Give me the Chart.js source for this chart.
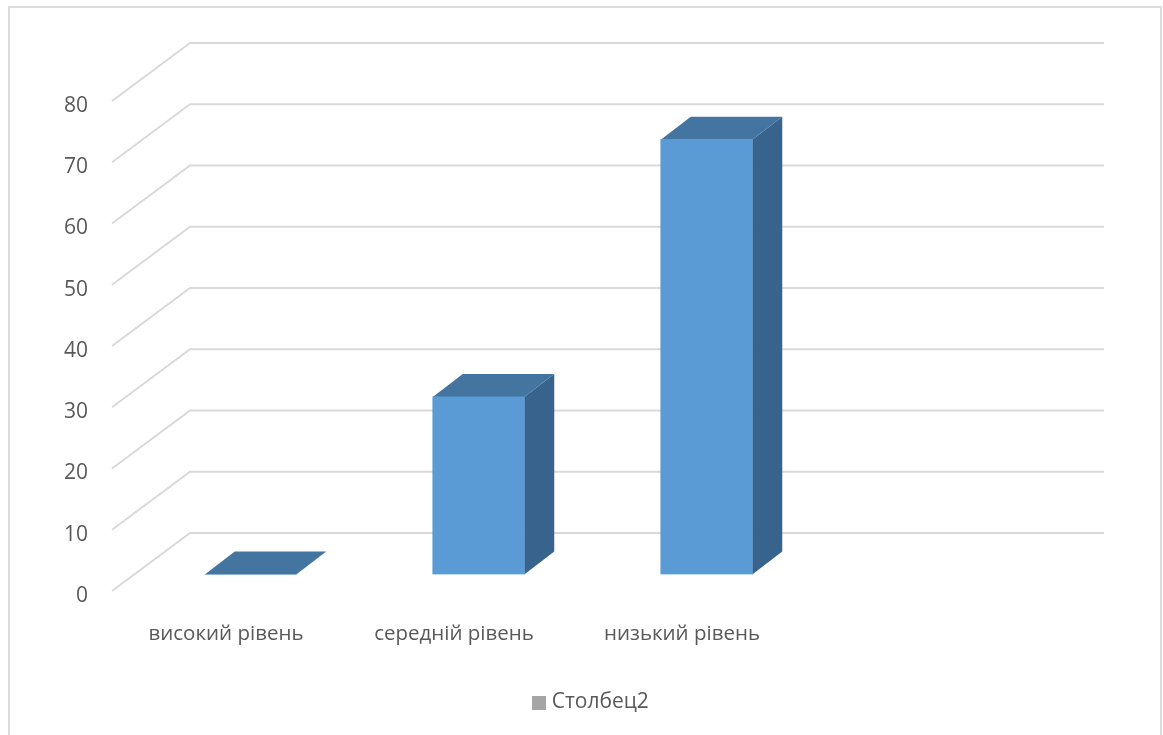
<!DOCTYPE html>
<html>
<head>
<meta charset="utf-8">
<title>Столбец2</title>
<script src="https://cdn.jsdelivr.net/npm/chart.js@4"></script>
<style>
    html, body { margin: 0; padding: 0; background: #ffffff; }
    canvas { display: block; }
</style>
</head>
<body>
<canvas id="chart" width="1163" height="735"></canvas>
<script>
const categories = ["високий рівень", "середній рівень", "низький рівень", ""];
const values = [0, 29, 71, null];
const seriesName = "Столбец2";
const tickStep = 10;
const axisMax = 80;

// colours
const textColor = "#595959";
const gridColor = "#d9d9d9";
const frontColor = "#5b9bd5";
const topColor = "#4475a1";
const sideColor = "#38638c";
const legendColor = "#a5a5a5";

// how the 3d look is laid out, in pixels
const lineLift = -5;
const wallShift = { x: 78, y: -58 };
const wallEnd = 80;
const barShift = { x: 24.5, y: -21.5 };
const barDepth = { x: 30, y: -23 };

function polygon(ctx, points, color) {
    ctx.fillStyle = color;
    ctx.beginPath();
    points.forEach((p, i) => (i ? ctx.lineTo(p[0], p[1]) : ctx.moveTo(p[0], p[1])));
    ctx.closePath();
    ctx.fill();
}

// legend square, drawn off centre so the text sits close to it like in the original
function legendSquare() {
    const c = document.createElement("canvas");
    c.width = 14;
    c.height = 14;
    const g = c.getContext("2d");
    g.fillStyle = legendColor;
    g.fillRect(0, 0, 14, 14);
    return c;
}

const frame3d = {
    id: "frame3d",
    beforeDatasetsDraw(chart) {
        const { ctx, chartArea, scales } = chart;
        ctx.save();

        // outer border, open at the bottom
        ctx.strokeStyle = "#dcdcdc";
        ctx.lineWidth = 2;
        ctx.beginPath();
        ctx.moveTo(9, 735);
        ctx.lineTo(9, 7);
        ctx.lineTo(1161, 7);
        ctx.lineTo(1161, 735);
        ctx.stroke();

        // floor/side lines plus back wall gridlines
        ctx.strokeStyle = gridColor;
        scales.y.ticks.forEach((tick) => {
            const y = scales.y.getPixelForValue(tick.value) + lineLift;
            ctx.beginPath();
            ctx.moveTo(chartArea.left, y);
            ctx.lineTo(chartArea.left + wallShift.x, y + wallShift.y);
            ctx.lineTo(chartArea.right + wallEnd, y + wallShift.y);
            ctx.stroke();
        });
        ctx.restore();

        // top and side faces of the bars, from the library's own bar elements
        ctx.save();
        ctx.translate(barShift.x, barShift.y);
        chart.getDatasetMeta(0).data.forEach((bar, i) => {
            if (values[i] === null) return;
            const left = bar.x - bar.width / 2;
            const right = bar.x + bar.width / 2;
            polygon(ctx, [
                [right, bar.y],
                [right + barDepth.x, bar.y + barDepth.y],
                [right + barDepth.x, bar.base + barDepth.y],
                [right, bar.base]
            ], sideColor);
            polygon(ctx, [
                [left, bar.y],
                [right, bar.y],
                [right + barDepth.x, bar.y + barDepth.y],
                [left + barDepth.x, bar.y + barDepth.y]
            ], topColor);
        });
        // left translated for the front faces, undone in afterDatasetsDraw
    },
    afterDatasetsDraw(chart) {
        chart.ctx.restore();
    }
};

new Chart(document.getElementById("chart"), {
    type: "bar",
    data: {
        labels: categories,
        datasets: [{
            label: seriesName,
            data: values,
            backgroundColor: frontColor,
            barThickness: 91.5
        }]
    },
    options: {
        responsive: false,
        animation: false,
        layout: { padding: { left: 23, top: 106, right: 0, bottom: 12 } },
        scales: {
            x: {
                grid: { display: false },
                border: { display: false },
                afterFit: (scale) => { scale.height = 86; },
                ticks: {
                    color: textColor,
                    font: { family: "'Open Sans'", size: 20.5 },
                    padding: 18,
                    maxRotation: 0
                }
            },
            y: {
                min: 0,
                max: axisMax,
                grid: { display: false },
                border: { display: false },
                afterFit: (scale) => { scale.width = 89; },
                ticks: {
                    stepSize: tickStep,
                    color: textColor,
                    font: { family: "'Open Sans'", size: 21 },
                    padding: 16
                }
            },
            // empty axis, only keeps the plot off the right side
            spacer: {
                position: "right",
                grid: { display: false },
                border: { display: false },
                ticks: { display: false },
                afterFit: (scale) => { scale.width = 139; }
            }
        },
        plugins: {
            tooltip: { enabled: false },
            legend: {
                position: "bottom",
                labels: {
                    color: textColor,
                    font: { family: "'Open Sans'", size: 21 },
                    usePointStyle: true,
                    pointStyleWidth: 4,
                    padding: 10,
                    generateLabels: () => [{
                        text: seriesName,
                        pointStyle: legendSquare(),
                        fontColor: textColor
                    }]
                }
            }
        }
    },
    plugins: [frame3d]
});
</script>
</body>
</html>
